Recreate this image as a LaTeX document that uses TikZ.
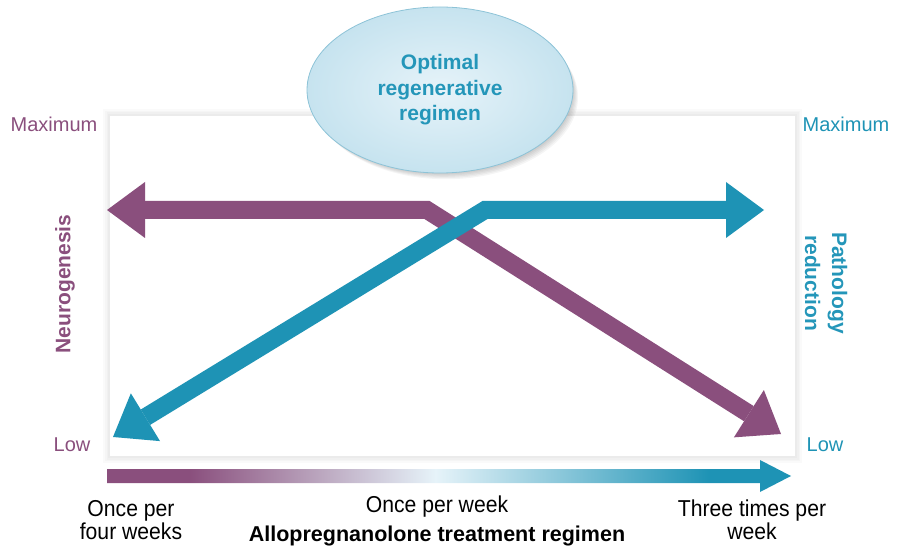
\documentclass[tikz,border=0pt]{standalone}
\usepackage{fontspec}
\setmainfont{Liberation Sans}
\newfontfamily\narrowfont[FakeStretch=0.92]{Liberation Sans}
\usetikzlibrary{arrows.meta,shapes.geometric}
\definecolor{regpurple}{HTML}{8A4F7D}
\definecolor{regteal}{HTML}{1E93B5}
\definecolor{regtext}{HTML}{2496B9}
\definecolor{regcloud}{HTML}{C6E3EF}
\definecolor{regedge}{HTML}{8DC3D7}
\definecolor{reglight}{HTML}{E6F3F9}
\pgfdeclarehorizontalshading{regbar}{100bp}{color(0bp)=(regpurple); color(31bp)=(regpurple);
  color(49bp)=(reglight); color(69bp)=(regteal); color(100bp)=(regteal)}
\tikzset{
  trend/.style={line width=18pt, line join=miter,
    {Triangle[length=38pt, width=56pt, line width'=0pt]}-{Triangle[length=38pt, width=56pt, line width'=0pt]}},
  optimum/.style={ellipse, draw=regedge, line width=0.8pt, inner color=reglight, outer color=regcloud,
    minimum width=266pt, minimum height=166pt, inner sep=0pt, align=center,
    font=\fontsize{21}{25.5}\selectfont\bfseries, text=regtext},
  level/.style={font=\fontsize{20}{24}\selectfont},
  axistitle/.style={font=\fontsize{21}{27}\selectfont\bfseries, align=center},
  regimen/.style={font=\fontsize{23}{23}\selectfont\narrowfont, align=center},
}

\begin{document}
\begin{tikzpicture}[x=1pt, y=-1pt]
\useasboundingbox (0,0) rectangle (897,548);
\foreach \w in {14,10,7,4}
  \draw[black, opacity=0.018, line width=\w] (110,116) rectangle (795,456);
\fill[white] (110,116) rectangle (795,456);
\foreach \s in {1,...,6}
  \fill[black, opacity=0.04] ({440+\s*1.0},{90+\s*1.2}) ellipse [x radius=132, y radius=82];
\node[optimum] (opt) at (440,90) {Optimal\\regenerative\\regimen};
\coordinate (nleft) at (107,210);
\coordinate (nbend) at (427,210);
\coordinate (nright) at (781,434);
\coordinate (pleft) at (113,437);
\coordinate (pbend) at (485,210);
\coordinate (pright) at (764,210);
\draw[trend, regpurple] (nleft) -- (nbend) -- (nright);
\draw[trend, regteal] (pleft) -- (pbend) -- (pright);
\shade[shading=regbar] (107,469) -- (760,469) -- (760,460) -- (791,476) -- (760,492)
  -- (760,483) -- (107,483) -- cycle;
\node[level, regpurple] (nmax) at (54,124) {Maximum};
\node[level, regpurple] (nlow) at (72,445) {Low};
\node[level, regteal] (pmax) at (846,124) {Maximum};
\node[level, regteal] (plow) at (825,445) {Low};
\node[axistitle, regpurple, rotate=90] (neuro) at (65,284) {Neurogenesis};
\node[axistitle, regtext, rotate=-90] (patho) at (826,283) {Pathology\\reduction};
\node[regimen] (monthly) at (131,520) {Once per\\four weeks};
\node[regimen] (weekly) at (437,507) {Once per week};
\node[regimen] (thrice) at (752,520) {Three times per\\week};
\node[font=\fontsize{21.5}{24}\selectfont\bfseries] (regime) at (437,536) {Allopregnanolone treatment regimen};
\end{tikzpicture}
\end{document}
